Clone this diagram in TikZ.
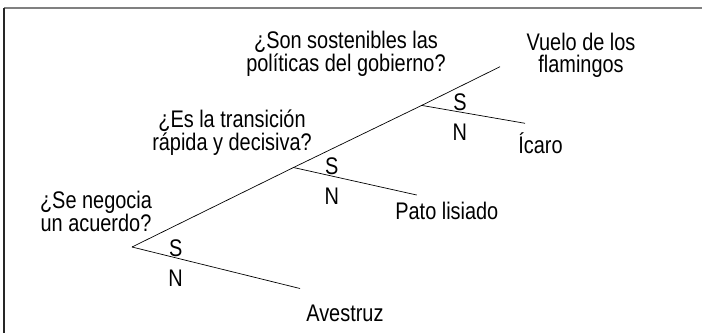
\documentclass[tikz,border=0pt]{standalone}
\usepackage{fontspec}
\setmainfont{Liberation Sans}[FakeStretch=0.83]

\begin{document}
\begin{tikzpicture}[x=1pt,y=-1pt,line width=0.7pt,
	        txt/.style={font=\fontsize{24}{21.7}\selectfont,align=center,inner sep=0pt},
	        si/.style={font=\fontsize{24}{21.7}\selectfont,inner sep=0.5pt,above,pos=#1},
	        no/.style={font=\fontsize{24}{21.7}\selectfont,inner sep=0.5pt,below=11pt,pos=#1}]
        	\useasboundingbox (0,0) rectangle (702,333);
        	\draw[gray,line width=2pt] (4,7.5) -- (702,7.5);
        	\draw[black!85,line width=1.4pt] (4,7.5) -- (4,333);

        	\coordinate (r) at (132,247);
        	\coordinate (j1) at (293.5,167.5);
        	\coordinate (j2) at (421.7,105.4);
        	\coordinate (top) at (500,66.7);
        	\coordinate (e0) at (300,288.5);
        	\coordinate (e1) at (416.7,195);
        	\coordinate (e2) at (525,123.3);

        	\node[txt] (q1) at (96,211.7) {¿Se negocia\\un acuerdo?};
        	\node[txt] (q2) at (232,132.7) {¿Es la transición\\rápida y decisiva?};
        	\node[txt] (q3) at (346,53.7) {¿Son sostenibles las\\políticas del gobierno?};
        	\node[txt] (vuelo) at (581,55.4) {Vuelo de los\\flamingos};
        	\node[txt,anchor=base west] (icaro) at (518,153) {Ícaro};
        	\node[txt,anchor=base west] (pato) at (395,219.5) {Pato lisiado};
        	\node[txt,anchor=base west] (avestruz) at (306,321) {Avestruz};

        	\draw (r) -- (j1) -- (j2) -- (top);
        	\draw (r) -- node[si=.26] {S} node[no=.26] {N} (e0);
        	\draw (j1) -- node[si=.31] {S} node[no=.31] {N} (e1);
        	\draw (j2) -- node[si=.37] {S} node[no=.37] {N} (e2);
        \end{tikzpicture}
\end{document}
